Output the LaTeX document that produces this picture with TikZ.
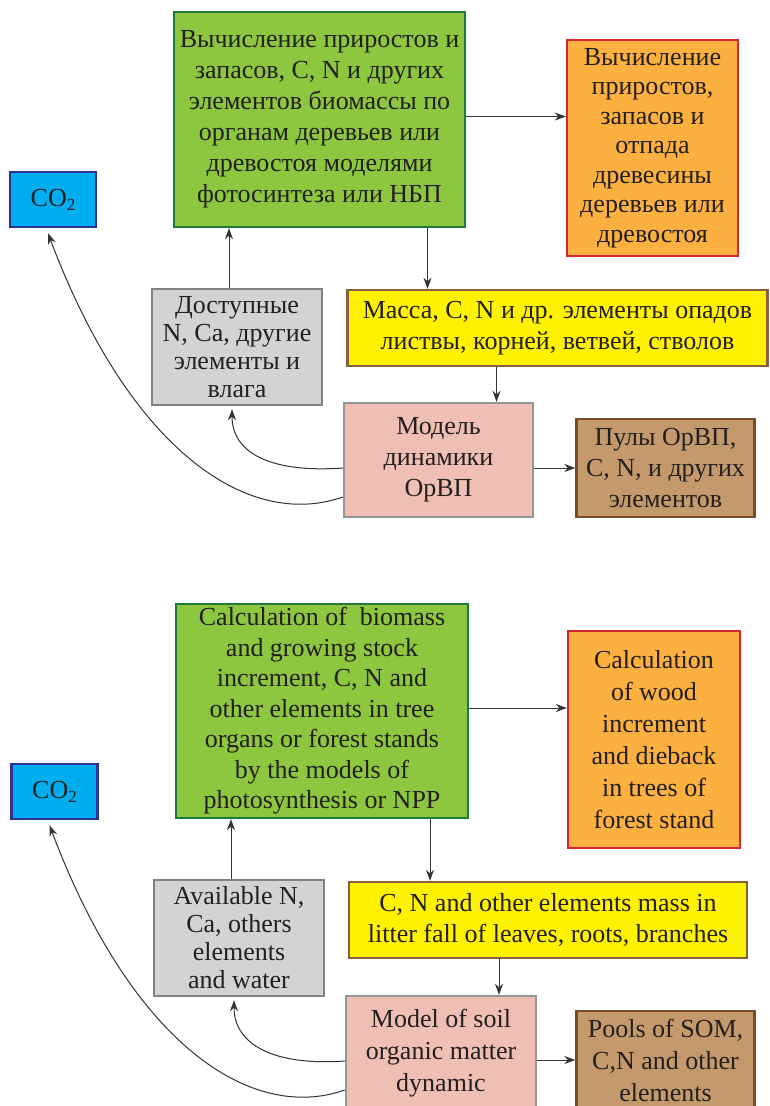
\documentclass[tikz,border=0pt]{standalone}
\usepackage{fontspec}
\setmainfont{Liberation Serif}
\usetikzlibrary{arrows.meta}
\definecolor{grnfill}{HTML}{8DC63F}
\definecolor{grnline}{HTML}{1E7B3A}
\definecolor{orfill}{HTML}{FBB040}
\definecolor{orline}{HTML}{D7282F}
\definecolor{cofill}{HTML}{00AEEF}
\definecolor{coline}{HTML}{2E3192}
\definecolor{gyfill}{HTML}{D1D3D4}
\definecolor{gyline}{HTML}{808285}
\definecolor{ylfill}{HTML}{FFF200}
\definecolor{ylline}{HTML}{8B5E3C}
\definecolor{pkfill}{HTML}{EFBFB3}
\definecolor{pkline}{HTML}{939598}
\definecolor{brfill}{HTML}{C49A6C}
\definecolor{brline}{HTML}{754C24}
\definecolor{txt}{HTML}{231F20}
\newcommand{\cotwo}{CO\raisebox{-0.35ex}{\fontsize{17}{17}\selectfont 2}}
\begin{document}
\begin{tikzpicture}[x=1pt,y=-1pt,>={Stealth[length=11pt,width=8pt]}]
	\tikzset{box/.style={rectangle,line width=2.4pt,align=center,inner sep=0pt,text=txt,font=\fontsize{26}{31}\selectfont},
		gbox/.style={box,fill=grnfill,draw=grnline,minimum width=291pt,minimum height=215pt},
		obox/.style={box,fill=orfill,draw=orline,minimum width=171pt,minimum height=216pt,font=\fontsize{26}{29.5}\selectfont},
		cbox/.style={box,fill=cofill,draw=coline,minimum width=86pt,minimum height=55pt},
		kbox/.style={box,fill=gyfill,draw=gyline,minimum width=170pt,minimum height=116pt,font=\fontsize{26}{28}\selectfont},
		ybox/.style={box,fill=ylfill,draw=ylline,minimum height=76pt},
		pbox/.style={box,fill=pkfill,draw=pkline,minimum width=189pt,minimum height=114pt},
		rbox/.style={box,fill=brfill,draw=brline,minimum width=178pt,minimum height=98pt},
		arr/.style={draw=black!80,line width=1pt}}
	\useasboundingbox (0,0) rectangle (769,1106);
	% upper part
	\path(319.5,119.5)node[gbox](G1){Вычисление приростов и\\запасов, C, N и других\\элементов биомассы по\\органам деревьев или\\древостоя моделями\\фотосинтеза или НБП};
	\path(652.5,148)node[obox](O1){Вычисление\\приростов,\\запасов и\\отпада\\древесины\\деревьев или\\древостоя};
	\path(53,199.5)node[cbox](C1){\cotwo};
	\path(237,347)node[kbox](K1){Доступные\\N, Ca, другие\\элементы и\\влага};
	\path(557.5,328)node[ybox,minimum width=420pt](Y1){Масса, C, N и др. элементы опадов\\листвы, корней, ветвей, стволов};
	\path(438.5,460)node[pbox](P1){Модель\\динамики\\ОрВП};
	\path(665.5,468)node[rbox](R1){Пулы ОрВП,\\C, N, и других\\элементов};
	% lower part
	\path(322,711)node[gbox,minimum width=292pt,minimum height=214pt,font=\fontsize{26}{30.5}\selectfont](G2){Calculation of~ biomass\\and growing stock\\increment, C, N and\\other elements in tree\\organs or forest stands\\by the models of\\photosynthesis or NPP};
	\path(654,739.5)node[obox,minimum width=172pt,minimum height=217pt,font=\fontsize{26}{32}\selectfont](O2){Calculation\\of wood\\increment\\and dieback\\in trees of\\forest stand};
	\path(54.5,791.5)node[cbox](C2){\cotwo};
	\path(239,938)node[kbox](K2){Available N,\\Ca, others\\elements\\and water};
	\path(548,920)node[ybox,minimum width=398pt](Y2){C, N and other elements mass in\\litter fall of leaves, roots, branches};
	\path(441,1053)node[pbox,minimum width=190pt,font=\fontsize{26}{32}\selectfont](P2){Model of soil\\organic matter\\dynamic};
	\path(665.5,1060)node[rbox,font=\fontsize{26}{32}\selectfont](R2){Pools of SOM,\\C,N and other\\elements};
	% connectors, same in both parts
	\foreach \i in {1,2}{
		\draw[arr,->]([xshift=-8pt]K\i.north)--([xshift=-8pt]K\i.north|-G\i.south);
		\draw[arr,->]([xshift=108pt]G\i.south)--([xshift=108pt]G\i.south|-Y\i.north);
		\draw[arr,->]([yshift=3pt]G\i.east)--([yshift=3pt]G\i.east-|O\i.west);
		\draw[arr,->]([xshift=58pt]P\i.north|-Y\i.south)--([xshift=58pt]P\i.north);
		\draw[arr,->](P\i.east|-R\i.west)--(R\i.west);
		\draw[arr,->]([yshift=-8pt]P\i.west)..controls +(-70,5) and +(0,45)..([xshift=-5pt,yshift=-3pt]K\i.south);
		\draw[arr,->]([yshift=-37pt]P\i.west)..controls +(-94,33) and +(82,218)..([xshift=-5pt,yshift=-5pt]C\i.south);
	}
\end{tikzpicture}
\end{document}
